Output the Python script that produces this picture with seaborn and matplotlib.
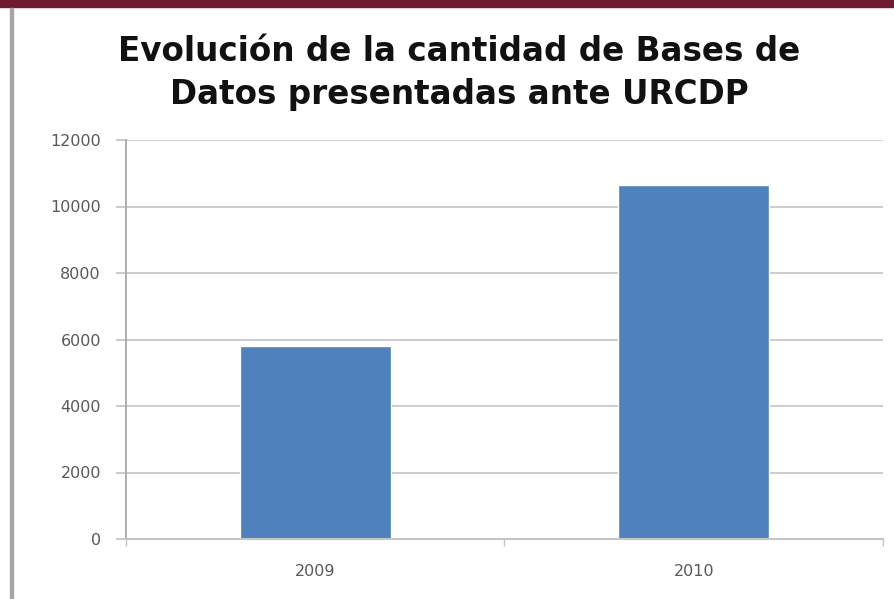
import matplotlib
matplotlib.use("Agg")
import matplotlib.pyplot as plt
import pandas as pd
import seaborn as sns
from matplotlib.patches import Rectangle

# Datos
years = ["2009", "2010"]
bases = [5800, 10650]
y_ticks = [0, 2000, 4000, 6000, 8000, 10000, 12000]

df = pd.DataFrame({"Año": years, "Bases": bases})

sns.set_theme(style="white")
plt.rcParams["font.family"] = ["DejaVu Sans"]

fig = plt.figure(figsize=(8.95, 5.99), dpi=100)
ax = fig.add_axes([126 / 895, 1 - 539 / 599, (883 - 126) / 895, 399 / 599])

sns.barplot(data=df, x="Año", y="Bases", color="#4F81BD", saturation=1,
            width=0.4, ax=ax)

ax.set_xlim(-0.5, 1.5)
ax.set_ylim(0, 12000)
ax.set_yticks(y_ticks)
ax.set_yticklabels([str(t) for t in y_ticks])
ax.set_xlabel("")
ax.set_ylabel("")

# lineas de cuadricula horizontales
for t in y_ticks[1:]:
    ax.axhline(t, color="#C4C4C4", lw=1.2, zorder=0)

for s in ["top", "right"]:
    ax.spines[s].set_visible(False)
ax.spines["left"].set_color("#A6A6A6")
ax.spines["bottom"].set_color("#C4C4C4")
ax.spines["bottom"].set_linewidth(1.5)

# ticks del eje x en los bordes de categoria
ax.set_xticks([0, 1])
ax.set_xticks([-0.5, 0.5, 1.5], minor=True)
ax.tick_params(axis="x", which="major", length=0, pad=18, labelsize=11.5,
               labelcolor="#595959")
ax.tick_params(axis="x", which="minor", length=5, color="#C4C4C4", bottom=True)
ax.tick_params(axis="y", length=7, color="#C4C4C4", pad=11, labelsize=11.5,
               labelcolor="#595959", left=True)

fig.text(459 / 895, 1 - 73 / 599,
         "Evolución de la cantidad de Bases de\nDatos presentadas ante URCDP",
         ha="center", va="center", fontsize=23.5, fontweight="bold",
         color="#111111", linespacing=1.35)

# marco: franja superior y linea gris a la izquierda
fig.patches.append(Rectangle((0, 1 - 7 / 599), 1, 7 / 599, transform=fig.transFigure,
                             color="#6E1A33", zorder=5))
fig.patches.append(Rectangle((10 / 895, 0), 3 / 895, 1 - 8 / 599,
                             transform=fig.transFigure, color="#A6A6A6", zorder=5))

fig.savefig("out.png", dpi=100)
